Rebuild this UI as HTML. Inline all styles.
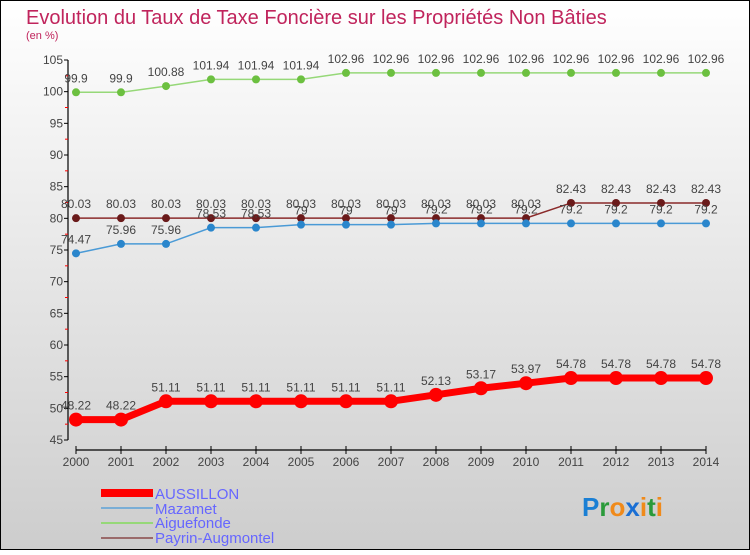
<!DOCTYPE html>
<html><head><meta charset="utf-8"><style>
html,body{margin:0;padding:0}
body{width:750px;height:550px;overflow:hidden;font-family:"Liberation Sans",sans-serif}
svg text{font-family:"Liberation Sans",sans-serif}
</style></head><body>
<svg id="chart" width="750" height="550" viewBox="0 0 750 550" xmlns="http://www.w3.org/2000/svg">
<defs><linearGradient id="bg" x1="0" y1="0" x2="0" y2="1"><stop offset="0" stop-color="#ffffff"/><stop offset="1" stop-color="#cdcdcd"/></linearGradient></defs>
<rect x="0.5" y="0.5" width="749" height="549" fill="url(#bg)" stroke="#000"/>
<text x="26" y="24" font-size="20" fill="#c0245c">Evolution du Taux de Taxe Foncière sur les Propriétés Non Bâties</text>
<text x="26" y="39" font-size="11" fill="#c0245c">(en %)</text>
<g id="axes"></g>
<g id="series"></g>
<g>
<rect x="101" y="489" width="52" height="8" fill="#ff0000"/>
<text x="155" y="499" font-size="15" fill="#6666ff">AUSSILLON</text>
<rect x="101" y="507" width="52" height="2" fill="#7aaed6"/>
<text x="155" y="514" font-size="15" fill="#6666ff">Mazamet</text>
<rect x="101" y="522" width="52" height="2" fill="#96d878"/>
<text x="155" y="528" font-size="15" fill="#6666ff">Aiguefonde</text>
<rect x="101" y="537" width="52" height="2" fill="#9a6a6a"/>
<text x="155" y="543" font-size="15" fill="#6666ff">Payrin-Augmontel</text>
</g>
<g font-size="26" font-weight="bold">
<text x="582" y="516"><tspan fill="#1a7fd4">P</tspan><tspan fill="#2a9a3a">r</tspan><tspan fill="#f08a1a">o</tspan><tspan fill="#1a6fd4">x</tspan><tspan fill="#f08a1a">i</tspan><tspan fill="#2a9a3a">t</tspan><tspan fill="#f08a1a">i</tspan></text>
</g>
</svg>
<script>
const years=[2000,2001,2002,2003,2004,2005,2006,2007,2008,2009,2010,2011,2012,2013,2014];
const aussillon=[48.22,48.22,51.11,51.11,51.11,51.11,51.11,51.11,52.13,53.17,53.97,54.78,54.78,54.78,54.78];
const mazamet=[74.47,75.96,75.96,78.53,78.53,79,79,79,79.2,79.2,79.2,79.2,79.2,79.2,79.2];
const aiguefonde=[99.9,99.9,100.88,101.94,101.94,101.94,102.96,102.96,102.96,102.96,102.96,102.96,102.96,102.96,102.96];
const payrin=[80.03,80.03,80.03,80.03,80.03,80.03,80.03,80.03,80.03,80.03,80.03,82.43,82.43,82.43,82.43];
const yTicks=[45,50,55,60,65,70,75,80,85,90,95,100,105];
const NS="http://www.w3.org/2000/svg";
const x0=76,x1=706,yMin=45,yMax=105,yTop=60,yBot=440;
function xs(i){return x0+(x1-x0)*i/(years.length-1);}
function ys(v){return yBot-(v-yMin)/(yMax-yMin)*(yBot-yTop);}
function mk(tag,at,parent){const e=document.createElementNS(NS,tag);for(const k in at)e.setAttribute(k,at[k]);parent.appendChild(e);return e;}
const ax=document.getElementById('axes');
let l=mk('line',{x1:68,y1:yTop,x2:68,y2:yBot,stroke:'#000','stroke-width':1.2},ax);


yTicks.forEach(v=>{
  mk('line',{x1:64,y1:ys(v),x2:68,y2:ys(v),stroke:'#000'},ax);
  if(v<yMax)mk('line',{x1:65,y1:ys(v+2.5),x2:68,y2:ys(v+2.5),stroke:'#f00'},ax);
  const t=mk('text',{x:63,y:ys(v)+4,'font-size':12,'text-anchor':'end',fill:'#444'},ax);
  t.textContent=v;
  
  
});
l=mk('line',{x1:x0,y1:450,x2:x1,y2:450,stroke:'#000','stroke-width':1.2},ax);


years.forEach((y,i)=>{
  mk('line',{x1:xs(i),y1:446,x2:xs(i),y2:454,stroke:'#000'},ax);
  const t=mk('text',{x:xs(i),y:466,'font-size':12,'text-anchor':'middle',fill:'#444'},ax);
  t.textContent=y;
  
  
});
const sg=document.getElementById('series');
function draw(name,data,color,dot,w,r){
  const g=mk('g',{},sg);
  
  
  const p=mk('polyline',{points:data.map((v,i)=>xs(i)+','+ys(v)).join(' '),fill:'none',stroke:color,'stroke-width':w},g);
  
  
  data.forEach((v,i)=>{
    const c=mk('circle',{cx:xs(i),cy:ys(v),r:r,fill:dot},g);
    
    
    const t=mk('text',{x:xs(i),y:ys(v)-10,'font-size':12,'text-anchor':'middle',fill:'#444'},g);
    t.textContent=v;
    
    
  });
}
draw('aiguefonde',aiguefonde,'#96d878','#6cc040',1.5,4);
draw('payrin-augmontel',payrin,'#8a2a2a','#6a1a1a',1.5,4);
draw('mazamet',mazamet,'#4a9ad6','#2a86cc',1.5,4);
draw('aussillon',aussillon,'#ff0000','#ff0000',7,7);
</script>
</body></html>
